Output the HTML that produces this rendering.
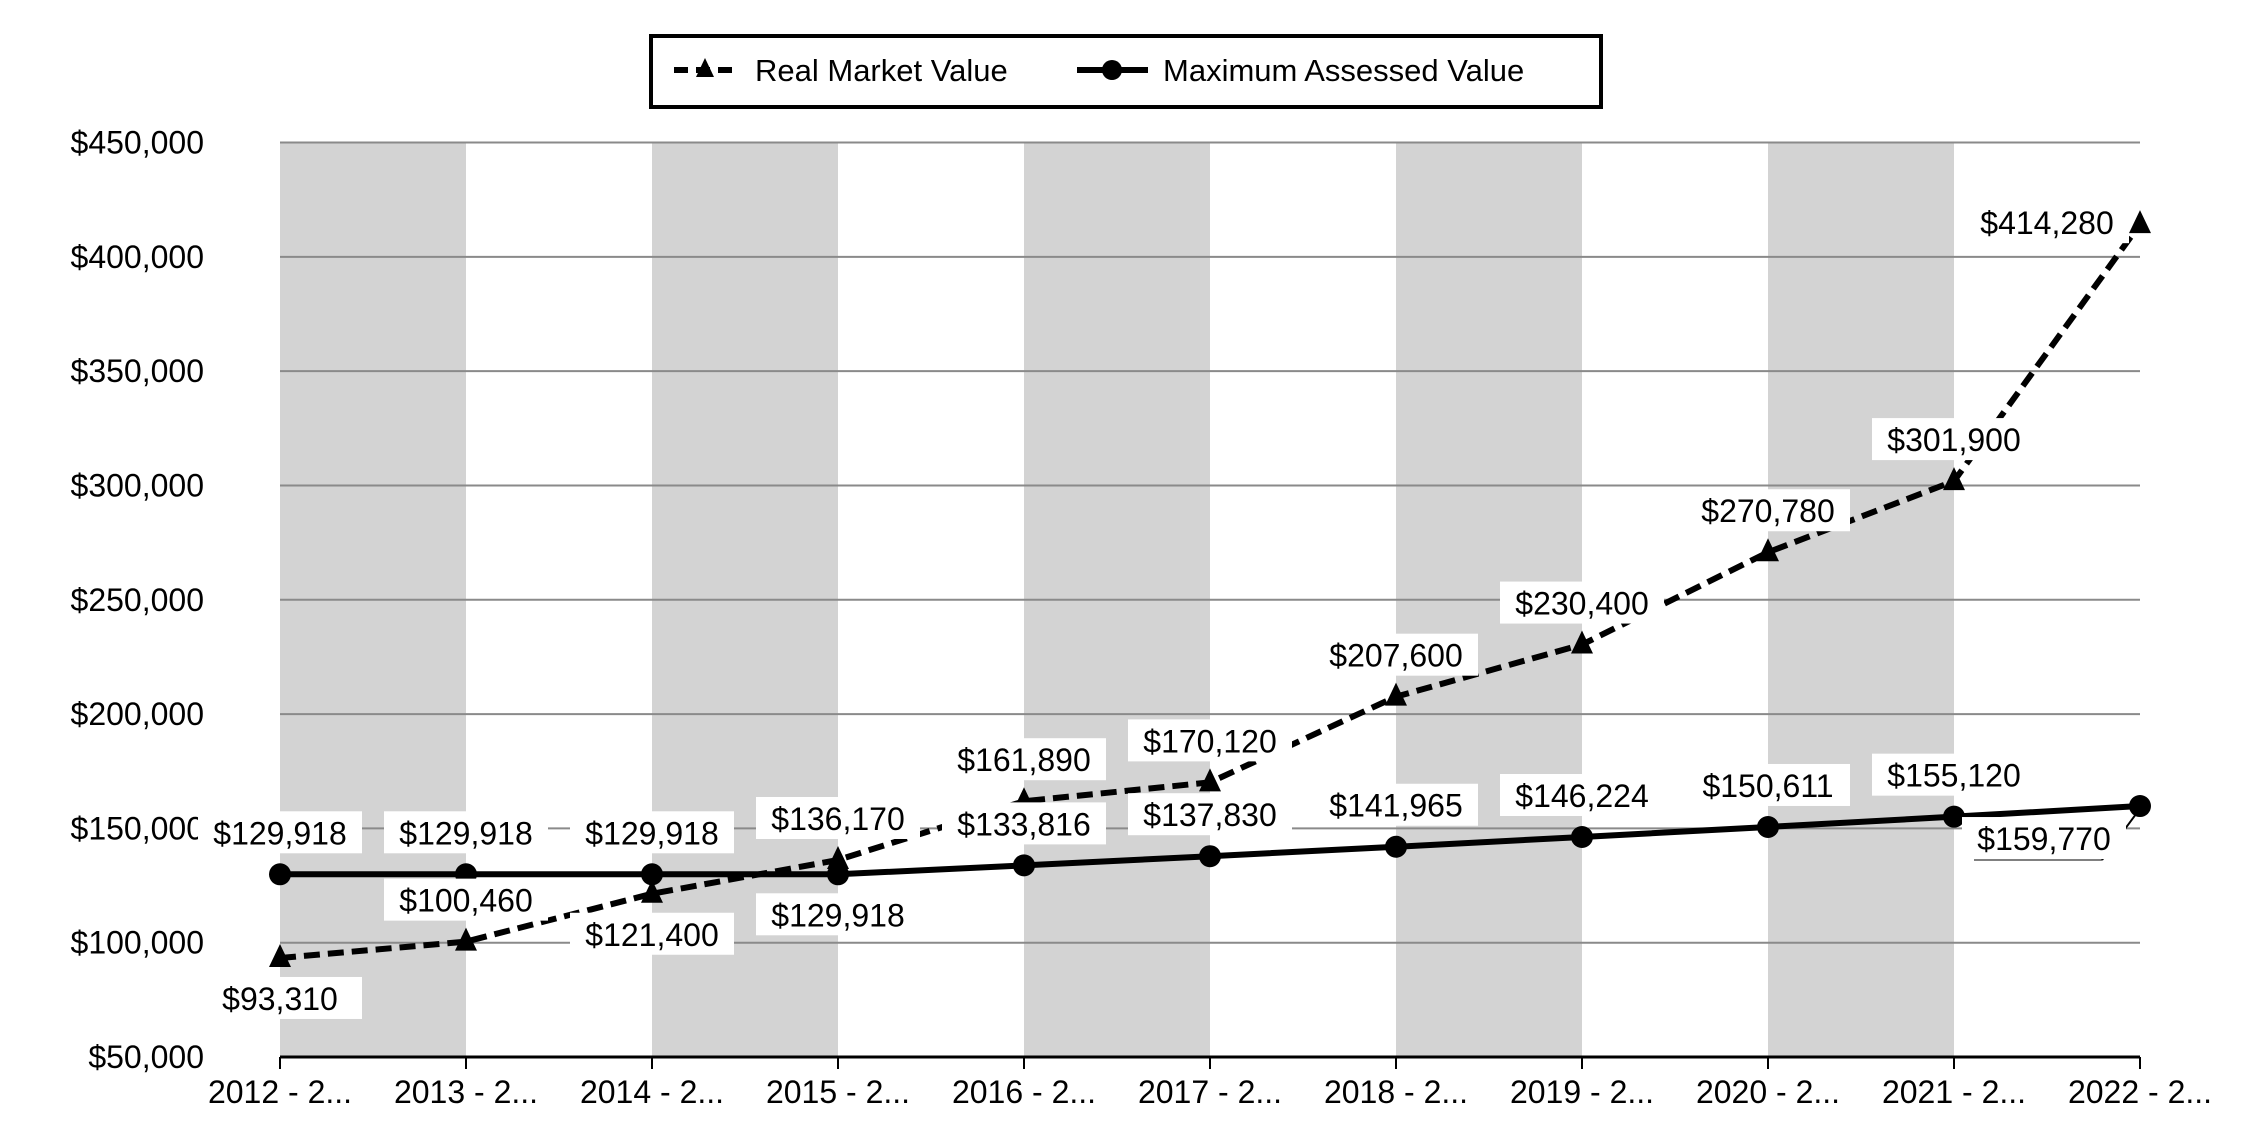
<!DOCTYPE html>
<html><head><meta charset="utf-8"><style>
html,body{margin:0;padding:0;background:#fff;}
svg{display:block;font-family:"Liberation Sans",Arial,sans-serif;}
</style></head><body>
<svg id="chart" width="2250" height="1140" viewBox="0 0 2250 1140">
<g id="bands"></g><g id="grid"></g><g id="yticks"></g><g id="xticks"></g>
<g id="lines"></g><g id="labels"></g>
<g>
<rect x="651" y="36" width="950" height="71" fill="#fff" stroke="#000" stroke-width="4"/>
<g>
<line x1="674" y1="70" x2="736" y2="70" stroke="#000" stroke-width="6" stroke-dasharray="14,8"/>
<polygon points="705,58 696,77 714,77" fill="#000"/>
<text x="755" y="81" font-size="31">Real Market Value</text></g>
<g>
<line x1="1077" y1="70" x2="1148" y2="70" stroke="#000" stroke-width="6"/>
<circle cx="1112" cy="70" r="10" fill="#000"/>
<text x="1163" y="81" font-size="31">Maximum Assessed Value</text></g>
</g>
</svg>
<script>
const categories=["2012 - 2...","2013 - 2...","2014 - 2...","2015 - 2...","2016 - 2...","2017 - 2...","2018 - 2...","2019 - 2...","2020 - 2...","2021 - 2...","2022 - 2..."];
const realMarketValue=[93310,100460,121400,136170,161890,170120,207600,230400,270780,301900,414280];
const maxAssessedValue=[129918,129918,129918,129918,133816,137830,141965,146224,150611,155120,159770];
const yTicks=[50000,100000,150000,200000,250000,300000,350000,400000,450000];
const rmvLabelPos=["below","above","below","above","above","above","above","above","above","above","left"];
const mavLabelPos=["above","above","above","below","above","above","above","above","above","above","lowleft"];

const NS="http://www.w3.org/2000/svg";
const L=280,R=2140,T=142.5,B=1057,yMin=50000,yMax=450000;
const xs=i=>L+(R-L)*i/(categories.length-1);
const ys=v=>B-(v-yMin)/(yMax-yMin)*(B-T);
function mk(tag,attrs,parent){const e=document.createElementNS(NS,tag);for(const k in attrs)e.setAttribute(k,attrs[k]);document.getElementById(parent).appendChild(e);return e;}
const fmt=v=>"$"+v.toLocaleString("en-US");

for(let i=0;i<categories.length-1;i+=2){
 const r=mk("rect",{x:xs(i),y:T,width:xs(i+1)-xs(i),height:B-T,fill:"#d3d3d3"},"bands");
 
 
}
yTicks.forEach(v=>{
 if(v>yMin){const g=mk("line",{x1:L,x2:R,y1:ys(v),y2:ys(v),stroke:"#8a8a8a","stroke-width":2},"grid");
 
 }
 const t=mk("text",{x:204,y:ys(v)+11,"font-size":32,"text-anchor":"end"},"yticks");t.textContent=fmt(v);
 
 
});
const ax=mk("line",{x1:L,x2:R,y1:B,y2:B,stroke:"#000","stroke-width":3},"grid");


categories.forEach((c,i)=>{
 mk("line",{x1:xs(i),x2:xs(i),y1:B,y2:B+12,stroke:"#000","stroke-width":2},"xticks");
 const t=mk("text",{x:xs(i),y:B+46,"font-size":32,"text-anchor":"middle"},"xticks");t.textContent=c;
 
 
});
const rp=mk("polyline",{points:realMarketValue.map((v,i)=>xs(i)+","+ys(v)).join(" "),fill:"none",stroke:"#000","stroke-width":6,"stroke-dasharray":"16,8"},"lines");


const mp=mk("polyline",{points:maxAssessedValue.map((v,i)=>xs(i)+","+ys(v)).join(" "),fill:"none",stroke:"#000","stroke-width":6},"lines");


realMarketValue.forEach((v,i)=>{const x=xs(i),y=ys(v);
 const p=mk("polygon",{points:`${x},${y-14} ${x-11},${y+9} ${x+11},${y+9}`,fill:"#000"},"lines");
 
 
});
maxAssessedValue.forEach((v,i)=>{
 const c=mk("circle",{cx:xs(i),cy:ys(v),r:11,fill:"#000"},"lines");
 
 
});
function label(v,i,pos){
 let cx=xs(i),cy=ys(v);
 if(pos==="above")cy-=42;else if(pos==="below")cy+=40;
 else if(pos==="left"){cx-=93;cy-=2;}
 else if(pos==="lowleft"){cx-=96;cy+=32;
  mk("line",{x1:cx+58,y1:cy+22,x2:xs(i)-4,y2:ys(v)+8,stroke:"#000","stroke-width":2},"labels");
  mk("line",{x1:cx-70,y1:cy+22,x2:cx+58,y2:cy+22,stroke:"#000","stroke-width":1},"labels");}
 const w=164,h=42;
 const bg=mk("rect",{x:cx-w/2,y:cy-h/2,width:w,height:h,fill:"#fff"},"labels");
 
 
 const t=mk("text",{x:cx,y:cy+12,"font-size":32,"text-anchor":"middle"},"labels");t.textContent=fmt(v);
 
 
}
realMarketValue.forEach((v,i)=>label(v,i,rmvLabelPos[i]));
maxAssessedValue.forEach((v,i)=>label(v,i,mavLabelPos[i]));
</script>
</body></html>
